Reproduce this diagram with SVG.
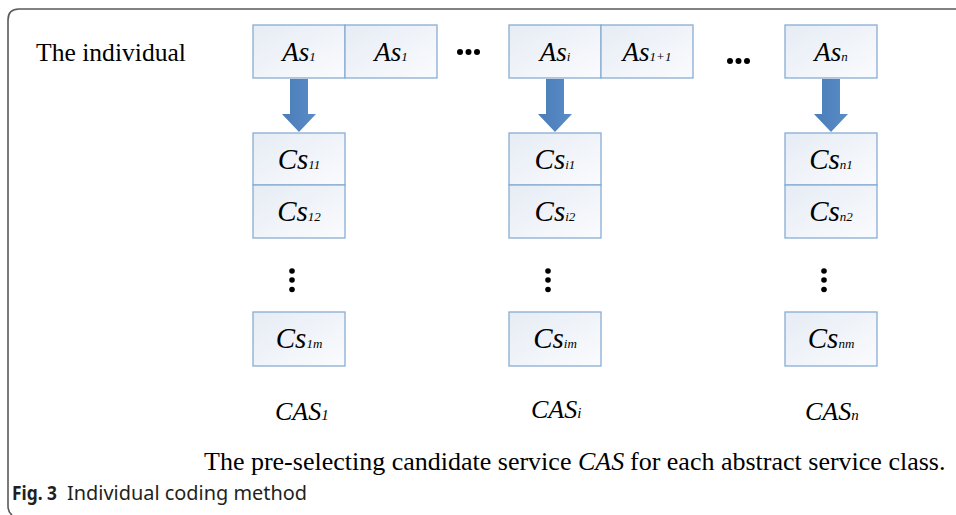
<svg xmlns="http://www.w3.org/2000/svg" width="956" height="515" viewBox="0 0 956 515">
  <defs>
    <linearGradient id="boxg" x1="0" y1="0" x2="1" y2="1">
      <stop offset="0" stop-color="#e6ecf5"/>
      <stop offset="1" stop-color="#fafbfd"/>
    </linearGradient>
    <linearGradient id="arrg" x1="0" y1="0" x2="1" y2="0">
      <stop offset="0" stop-color="#4a7db8"/>
      <stop offset="1" stop-color="#5a8cc6"/>
    </linearGradient>
  </defs>
  <style>
    .box { fill: url(#boxg); stroke: #88acd3; stroke-width: 1.3; }
    .lbl { font-family: "Liberation Serif", "Times New Roman", serif; font-style: italic; fill: #000; }
    .as { font-size: 27px; }
    .cs { font-size: 29px; }
    .cas { font-size: 26px; }
    .sub { font-size: 13px; }
    .serif { font-family: "Liberation Serif", "Times New Roman", serif; fill: #000; }
    .cap { font-family: "Noto Sans", "Open Sans", sans-serif; font-size: 19px; fill: #231f20; }
    .arrow { fill: url(#arrg); }
    .dot { fill: #000; }
  </style>

  <path d="M956 9 H19 Q8 9 8 20 V506 Q8 512 12 515" fill="none" stroke="#5a5a5a" stroke-width="1.6"/>

  <text class="serif" x="36" y="61" font-size="25.6">The individual</text>

  <g id="as-row">
    <g id="as1a"><rect class="box" x="253" y="25" width="92" height="53"/><text class="lbl as" x="299" y="61" text-anchor="middle">As<tspan class="sub">1</tspan></text></g>
    <g id="as1b"><rect class="box" x="345" y="25" width="92" height="53"/><text class="lbl as" x="391" y="61" text-anchor="middle">As<tspan class="sub">1</tspan></text></g>
    <g id="asi"><rect class="box" x="509" y="25" width="92" height="53"/><text class="lbl as" x="555" y="61" text-anchor="middle">As<tspan class="sub">i</tspan></text></g>
    <g id="asi1"><rect class="box" x="601" y="25" width="92" height="53"/><text class="lbl as" x="647" y="61" text-anchor="middle">As<tspan class="sub">1+1</tspan></text></g>
    <g id="asn"><rect class="box" x="785" y="25" width="92" height="53"/><text class="lbl as" x="831" y="61" text-anchor="middle">As<tspan class="sub">n</tspan></text></g>
  </g>

  <g id="hdots">
    <circle class="dot" cx="460" cy="52" r="3"/><circle class="dot" cx="468.5" cy="52" r="3"/><circle class="dot" cx="477" cy="52" r="3"/>
    <circle class="dot" cx="730" cy="61" r="3"/><circle class="dot" cx="738.5" cy="61" r="3"/><circle class="dot" cx="747" cy="61" r="3"/>
  </g>

  <g id="connectors">
    <path class="arrow" d="M290 79 H308 V114 H316 L299 132 L282 114 H290 Z"/>
    <path class="arrow" d="M546 79 H564 V114 H572 L555 132 L538 114 H546 Z"/>
    <path class="arrow" d="M822 79 H840 V114 H848 L831 132 L814 114 H822 Z"/>
  </g>

  <g id="cas1">
    <rect class="box" x="253" y="133" width="92" height="52"/><text class="lbl cs" x="299" y="169" text-anchor="middle">Cs<tspan class="sub">11</tspan></text>
    <rect class="box" x="253" y="185" width="92" height="53"/><text class="lbl cs" x="299" y="221" text-anchor="middle">Cs<tspan class="sub">12</tspan></text>
    <circle class="dot" cx="292" cy="271" r="2.8"/><circle class="dot" cx="292" cy="280" r="2.8"/><circle class="dot" cx="292" cy="289.5" r="2.8"/>
    <rect class="box" x="253" y="312" width="92" height="54"/><text class="lbl cs" x="299" y="348" text-anchor="middle">Cs<tspan class="sub">1m</tspan></text>
    <text class="lbl cas" x="275" y="420">CAS<tspan font-size="15">1</tspan></text>
  </g>

  <g id="casi">
    <rect class="box" x="509" y="133" width="92" height="52"/><text class="lbl cs" x="555" y="169" text-anchor="middle">Cs<tspan class="sub">i1</tspan></text>
    <rect class="box" x="509" y="185" width="92" height="53"/><text class="lbl cs" x="555" y="221" text-anchor="middle">Cs<tspan class="sub">i2</tspan></text>
    <circle class="dot" cx="548" cy="271" r="2.8"/><circle class="dot" cx="548" cy="280" r="2.8"/><circle class="dot" cx="548" cy="289.5" r="2.8"/>
    <rect class="box" x="509" y="312" width="92" height="54"/><text class="lbl cs" x="555" y="348" text-anchor="middle">Cs<tspan class="sub">im</tspan></text>
    <text class="lbl cas" x="531" y="418">CAS<tspan font-size="15">i</tspan></text>
  </g>

  <g id="casn">
    <rect class="box" x="785" y="133" width="92" height="52"/><text class="lbl cs" x="831" y="169" text-anchor="middle">Cs<tspan class="sub">n1</tspan></text>
    <rect class="box" x="785" y="185" width="92" height="53"/><text class="lbl cs" x="831" y="221" text-anchor="middle">Cs<tspan class="sub">n2</tspan></text>
    <circle class="dot" cx="824" cy="271" r="2.8"/><circle class="dot" cx="824" cy="280" r="2.8"/><circle class="dot" cx="824" cy="289.5" r="2.8"/>
    <rect class="box" x="785" y="312" width="92" height="54"/><text class="lbl cs" x="831" y="348" text-anchor="middle">Cs<tspan class="sub">nm</tspan></text>
    <text class="lbl cas" x="805" y="420">CAS<tspan font-size="15">n</tspan></text>
  </g>

  <g id="caption">
    <text class="serif" x="204" y="470" font-size="26">The pre-selecting candidate service</text>
    <text class="lbl" x="578" y="470" font-size="26">CAS</text>
    <text class="serif" x="630" y="470" font-size="26">for each abstract service class.</text>
  </g>

  <g id="figure-title">
    <text class="cap" x="12" y="500" font-weight="bold" textLength="45" lengthAdjust="spacingAndGlyphs">Fig. 3</text>
    <text class="cap" x="67" y="500" textLength="240" lengthAdjust="spacingAndGlyphs">Individual coding method</text>
  </g>
</svg>
